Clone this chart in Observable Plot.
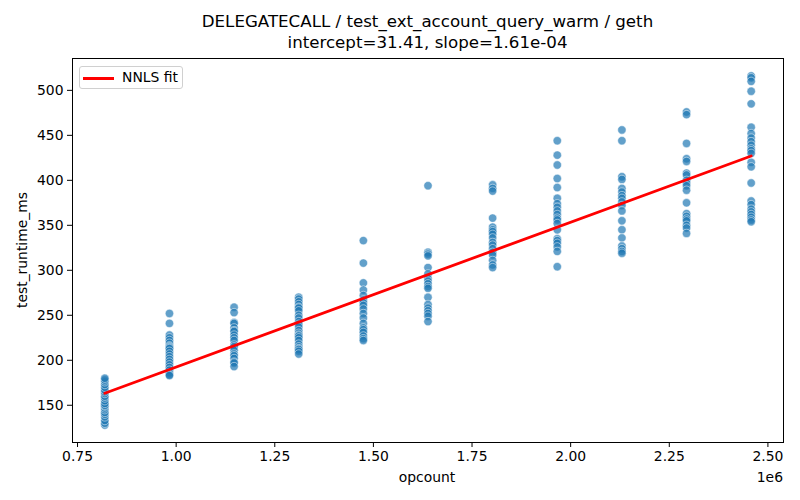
<!DOCTYPE html>
<html>
<head>
<meta charset="utf-8">
<script src="https://cdn.jsdelivr.net/npm/d3@7"></script>
<script src="https://cdn.jsdelivr.net/npm/@observablehq/plot@0.6"></script>
<style>
  body { margin: 0; background: #fff; font-family: "DejaVu Sans", sans-serif; }
  #wrap { position: relative; width: 800px; height: 500px; }
  #title { position: absolute; left: 72px; width: 711px; top: 11px; text-align: center; font-size: 16.67px; line-height: 21px; color: #000; }
  #legend { position: absolute; left: 79px; top: 66px; width: 104px; height: 23px; border: 1px solid #d0d0d0; border-radius: 3px; background: rgba(255,255,255,0.8); box-sizing: border-box; }
  #legend .sw { position: absolute; left: 3px; top: 10px; width: 31px; height: 2.8px; background: red; }
  #legend .lb { position: absolute; left: 42px; top: 2px; font-size: 13.9px; line-height: 17px; }
  #ylabel { position: absolute; left: 22px; top: 250px; transform: translate(-50%,-50%) rotate(-90deg); font-size: 13.9px; white-space: nowrap; }
  #xlabel { position: absolute; left: 427px; top: 469px; transform: translateX(-50%); font-size: 13.9px; }
  #offset { position: absolute; right: 17px; top: 469px; font-size: 13.9px; }
  svg { position: absolute; left: 0; top: 0; }
</style>
</head>
<body>
<div id="wrap">
  <div id="chart"></div>
  <div id="title">DELEGATECALL / test_ext_account_query_warm / geth<br>intercept=31.41, slope=1.61e-04</div>
  <div id="legend"><div class="sw"></div><div class="lb">NNLS fit</div></div>
  <div id="ylabel">test_runtime_ms</div>
  <div id="xlabel">opcount</div>
  <div id="offset">1e6</div>
</div>
<script>
const opcounts = [819200, 983040, 1146880, 1310720, 1474560, 1638400, 1802240, 1966080, 2129920, 2293760, 2457600];
const runtimes = [
  [128, 130, 133, 137, 140, 142, 145, 147, 149, 150, 152, 155, 158, 160, 163, 165, 167, 170, 173, 176, 178, 180],
  [252, 241, 228, 225, 222, 219, 216, 215, 214, 213, 210, 207, 204, 201, 198, 195, 192, 189, 186, 184, 183],
  [259, 253, 242, 241, 236, 233, 232, 228, 225, 222, 217, 215, 211, 207, 205, 202, 198, 197, 193],
  [270, 268, 265, 262, 259, 258, 255, 250, 247, 243, 240, 237, 233, 230, 228, 227, 225, 222, 218, 215, 213, 212, 210, 207],
  [333, 308, 286, 278, 272, 267, 264, 261, 257, 252, 247, 241, 236, 234, 231, 227, 224, 222],
  [394, 320, 318, 316, 303, 296, 291, 288, 285, 282, 280, 270, 262, 258, 255, 252, 249, 243],
  [395, 391, 388, 358, 348, 345, 343, 340, 336, 331, 328, 324, 320, 317, 311, 306, 303],
  [444, 428, 417, 402, 392, 380, 374, 370, 366, 362, 358, 356, 352, 345, 335, 333, 330, 326, 321, 304],
  [456, 444, 404, 401, 391, 387, 383, 380, 376, 372, 366, 355, 345, 336, 327, 324, 321, 319],
  [476, 473, 441, 424, 421, 408, 406, 400, 397, 394, 389, 375, 363, 360, 357, 355, 350, 347, 341],
  [516, 514, 510, 499, 485, 459, 452, 447, 443, 439, 435, 433, 430, 420, 415, 397, 377, 373, 368, 365, 362, 359, 356, 354]
];
const intercept = 31.41;
const slope = 1.61e-4;
const xTicks = [750000, 1000000, 1250000, 1500000, 1750000, 2000000, 2250000, 2500000];
const yTicks = [150, 200, 250, 300, 350, 400, 450, 500];

const points = opcounts.flatMap((x, i) => runtimes[i].map(y => ({x, y})));
const xMin = d3.min(opcounts), xMax = d3.max(opcounts);
const fit = [xMin, xMax].map(x => ({x, y: intercept + slope * x}));
const allY = points.map(d => d.y).concat(fit.map(d => d.y));
const yMin = d3.min(allY), yMax = d3.max(allY);
const xPad = (xMax - xMin) * 0.05, yPad = (yMax - yMin) * 0.05;

const chart = Plot.plot({
  width: 800,
  height: 500,
  marginLeft: 72,
  marginRight: 17,
  marginTop: 58,
  marginBottom: 58,
  style: {fontFamily: "DejaVu Sans, sans-serif", fontSize: "13.9px", color: "#000", background: "transparent"},
  x: {domain: [xMin - xPad, xMax + xPad], ticks: xTicks, tickFormat: d => (d / 1e6).toFixed(2), label: null},
  y: {domain: [yMin - yPad, yMax + yPad], ticks: yTicks, label: null},
  marks: [
    Plot.dot(points, {x: "x", y: "y", r: 4.2, fill: "#1f77b4", fillOpacity: 0.7, stroke: "white", strokeOpacity: 0.7, strokeWidth: 0.7}),
    Plot.line(fit, {x: "x", y: "y", stroke: "red", strokeWidth: 2.8}),
    Plot.axisX({ticks: xTicks, tickFormat: d => (d / 1e6).toFixed(2), tickSize: 5, tickPadding: 4, label: null, fontSize: 13.9}),
    Plot.axisY({ticks: yTicks, tickSize: 5, tickPadding: 4, label: null, fontSize: 13.9}),
    Plot.frame({stroke: "black", strokeWidth: 1})
  ]
});
document.getElementById("chart").appendChild(chart);
</script>
</body>
</html>
